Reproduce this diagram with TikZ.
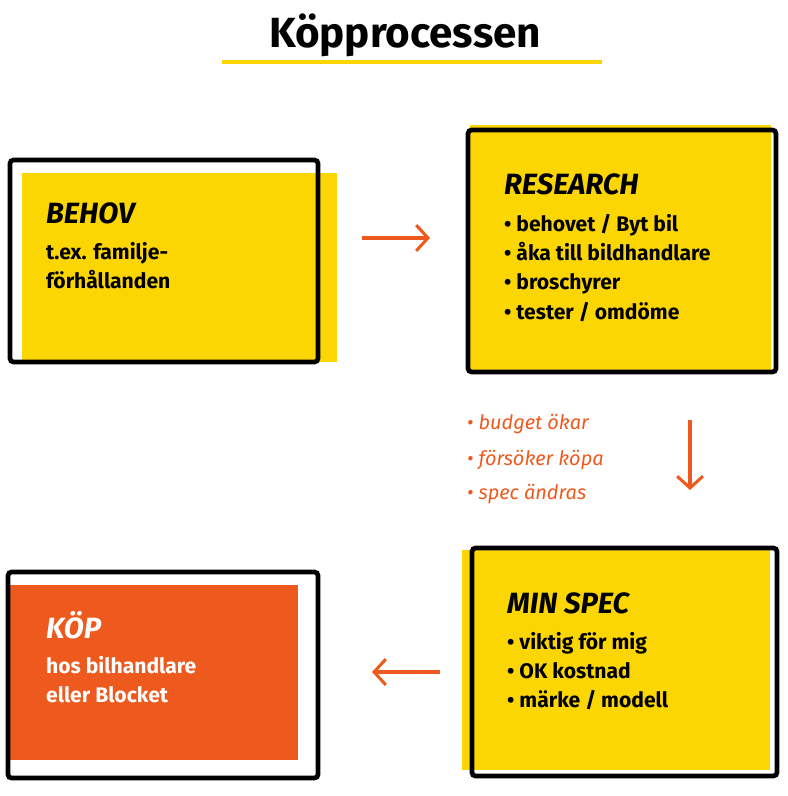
\documentclass[tikz,border=0pt]{standalone}
\usepackage{fontspec}
\setmainfont{Fira Sans}
\definecolor{yel}{HTML}{FCD602}
\definecolor{org}{HTML}{EE5A1E}
\begin{document}
\begin{tikzpicture}[x=0.03cm,y=-0.03cm,
  frame/.style={draw=black,line width=4pt,rounded corners=3pt},
  arr/.style={draw=org,line width=2.6pt,-{Straight Barb[length=10pt,width=22pt,line width=2.6pt]}},
  ttl/.style={anchor=west,font=\fontsize{25}{28}\selectfont\itshape\bfseries},
  body/.style={anchor=north west,align=left,font=\fontsize{18}{25}\selectfont\bfseries},
  note/.style={anchor=west,text=org,font=\fontsize{17}{20}\selectfont\itshape}]
\usetikzlibrary{arrows.meta}
\useasboundingbox (0,0) rectangle (787,796);
\node (title) at (405,35) {\fontsize{36}{40}\selectfont\bfseries Köpprocessen};
\draw[yel,line width=4pt] (222,62) -- (602,62);
% BEHOV
\fill[yel] (22,173) rectangle (337,362);
\draw[frame] (10,160) rectangle (318,362);
\node[ttl] (t1) at (42,213) {BEHOV};
\node[body] (b1) at (42,238) {t.ex. familje-\\förhållanden};
% RESEARCH
\fill[yel] (470,125) rectangle (771,370);
\draw[frame] (468,130) rectangle (776,372);
\node[ttl] (t2) at (500,184) {RESEARCH};
\node[body] (b2) at (500,210) {• behovet / Byt bil\\• åka till bildhandlare\\• broschyrer\\• tester / omdöme};
% MIN SPEC
\fill[yel] (462,550) rectangle (770,770);
\draw[frame] (472,548) rectangle (777,776);
\node[ttl] (t3) at (503,603) {MIN SPEC};
\node[body] (b3) at (503,628) {• viktig för mig\\• OK kostnad\\• märke / modell};
% KOP
\fill[org] (8,585) rectangle (298,760);
\draw[frame] (8,572) rectangle (318,778);
\node[ttl,text=white] (t4) at (42,625) {KÖP};
\node[body,text=white] (b4) at (42,652) {hos bilhandlare\\eller Blocket};
% arrows
\coordinate (a1) at (362,238); \coordinate (a2) at (430,238);
\coordinate (a3) at (690,420); \coordinate (a4) at (690,490);
\coordinate (a5) at (440,672); \coordinate (a6) at (372,672);
\draw[arr] (a1) -- (a2);
\draw[arr] (a3) -- (a4);
\draw[arr] (a5) -- (a6);
\node[note] (n1) at (463,424) {• budget ökar};
\node[note] (n2) at (463,460) {• försöker köpa};
\node[note] (n3) at (463,494) {• spec ändras};
\end{tikzpicture}
\end{document}
